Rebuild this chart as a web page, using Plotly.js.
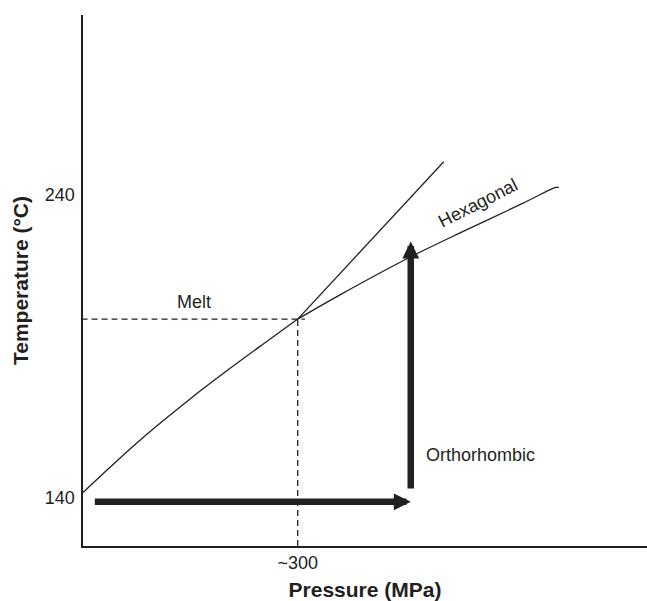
<!DOCTYPE html>
<html>
<head>
<meta charset="utf-8">
<script src="https://cdn.plot.ly/plotly-3.0.1.min.js"></script>
<style>html,body{margin:0;padding:0;background:#fff;}#chart{width:647px;height:601px;}</style>
</head>
<body>
<div id="chart"></div>
<script>
// Phase boundaries (pressure in MPa, temperature in °C)
const orthoMeltP = [0, 50, 100, 150, 200, 250, 300];
const orthoMeltT = [141.7, 152.7, 163.05, 172.7, 181.75, 190.45, 199];
const meltHexP = [300, 504];
const meltHexT = [199, 251];
const hexP = [300, 359, 458, 526, 615, 652, 661, 665];
const hexT = [199, 207, 219.6, 227.4, 237.3, 241.7, 242.5, 242.5];
// Triple point guide lines
const tripleP = 300;
const tripleT = 199;
const guideHP = [-2, 310];
const guideVT = [124, 199];
// Process path arrows: [tailP, tailT, tipP, tipT]
const arrowH = [14.4, 138.6, 457.9, 138.6];
const arrowV = [457.9, 142.5, 457.9, 224.6];
// Tick labels
const xTickVals = [300];
const xTickText = ['~300'];
const yTickVals = [140, 240];
const yTickText = ['140', '240'];
// Region labels
const labels = [
  {text: 'Melt', p: 154.6, t: 204.7, angle: 0},
  {text: 'Orthorhombic', p: 556, t: 154.1, angle: 0},
  {text: 'Hexagonal', p: 552.3, t: 237.3, angle: -27}
];

const ink = '#231f20';
const font = '"Liberation Sans", Arial, sans-serif';

const traces = [
  {x: orthoMeltP, y: orthoMeltT, mode: 'lines', line: {color: ink, width: 1.3, shape: 'spline', smoothing: 1}, hoverinfo: 'skip'},
  {x: meltHexP, y: meltHexT, mode: 'lines', line: {color: ink, width: 1.3}, hoverinfo: 'skip'},
  {x: hexP, y: hexT, mode: 'lines', line: {color: ink, width: 1.3, shape: 'spline', smoothing: 0.8}, hoverinfo: 'skip'},
  {x: guideHP, y: [tripleT, tripleT], mode: 'lines', line: {color: ink, width: 1.3, dash: '6px,4px'}, hoverinfo: 'skip', cliponaxis: false},
  {x: [tripleP, tripleP], y: guideVT, mode: 'lines', line: {color: ink, width: 1.3, dash: '6px,4px'}, hoverinfo: 'skip'}
];

const annotations = labels.map(l => ({
  x: l.p, y: l.t, xref: 'x', yref: 'y', text: l.text, showarrow: false,
  textangle: l.angle, font: {family: font, size: 18, color: ink}
}));
[arrowH, arrowV].forEach(a => {
  annotations.push({
    x: a[2], y: a[3], ax: a[0], ay: a[1], xref: 'x', yref: 'y', axref: 'x', ayref: 'y',
    text: '', showarrow: true, arrowhead: 2, arrowwidth: 6.5, arrowsize: 0.52, arrowcolor: ink
  });
});

const layout = {
  width: 647, height: 601,
  margin: {l: 83, r: 0, t: 15, b: 55},
  paper_bgcolor: '#fff', plot_bgcolor: '#fff',
  showlegend: false,
  font: {family: font, color: ink},
  xaxis: {
    range: [0, 788], showgrid: false, zeroline: false, showline: true,
    linecolor: ink, linewidth: 1.6, ticks: '', tickvals: xTickVals, ticktext: xTickText,
    tickfont: {family: font, size: 18, color: ink},
    title: {text: 'Pressure (MPa)', font: {family: font, size: 21, color: ink, weight: 'bold'}, standoff: 12}
  },
  yaxis: {
    range: [124, 299.5], showgrid: false, zeroline: false, showline: true,
    linecolor: ink, linewidth: 1.6, ticks: '', tickvals: yTickVals, ticktext: yTickText,
    ticklabelstandoff: 3,
    tickfont: {family: font, size: 18, color: ink},
    title: {text: 'Temperature (°C)', font: {family: font, size: 21, color: ink, weight: 'bold'}, standoff: 10}
  },
  annotations: annotations
};

Plotly.newPlot('chart', traces, layout, {staticPlot: true, displayModeBar: false});
</script>
</body>
</html>
